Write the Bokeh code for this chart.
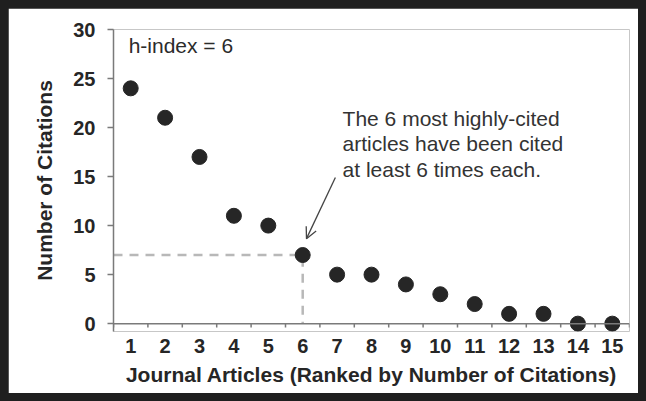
from bokeh.plotting import figure
from bokeh.models import Range1d, FixedTicker, Arrow, OpenHead, Span
from bokeh.core.properties import value
from bokeh.embed import file_html
from bokeh.resources import INLINE

# ---- data ----
ranks = list(range(1, 16))
citations = [24, 21, 17, 11, 10, 7, 5, 5, 4, 3, 2, 1, 1, 0, 0]
h_index = 6
y_ticks = [0, 5, 10, 15, 20, 25, 30]
x_label = "Journal Articles (Ranked by Number of Citations)"
y_label = "Number of Citations"
h_text = "h-index = 6"
note_lines = ["The 6 most highly-cited", "articles have been cited", "at least 6 times each."]

FONT = "Liberation Sans"
AXIS_COLOR = "#7a7a7a"
INK = "#262626"

p = figure(width=630, height=385, output_backend="svg", toolbar_location=None,
           x_range=Range1d(0.5, 15.5), y_range=Range1d(-0.8, 30),
           min_border_left=105, min_border_right=9, min_border_top=21, min_border_bottom=62)
p.background_fill_color = "white"
p.border_fill_color = "white"
p.outline_line_color = None
p.grid.visible = False

# y axis
ya = p.yaxis[0]
ya.ticker = FixedTicker(ticks=y_ticks)
ya.axis_line_color = AXIS_COLOR
ya.axis_line_width = 1.5
ya.major_tick_line_color = AXIS_COLOR
ya.major_tick_line_width = 1.5
ya.major_tick_out = 6
ya.major_tick_in = 0
ya.minor_tick_line_color = None
ya.major_label_text_font = FONT
ya.major_label_text_font_size = "20px"
ya.major_label_text_font_style = "bold"
ya.major_label_text_color = INK
ya.major_label_standoff = 12
ya.axis_label = y_label
ya.axis_label_text_font = FONT
ya.axis_label_text_font_size = "21px"
ya.axis_label_text_font_style = "bold"
ya.axis_label_text_color = INK
ya.axis_label_standoff = 14

# x axis (labels only; line and ticks drawn at y=0)
xa = p.xaxis[0]
xa.ticker = FixedTicker(ticks=ranks)
xa.axis_line_color = None
xa.major_tick_line_color = None
xa.minor_tick_line_color = None
xa.major_tick_out = 0
xa.major_tick_in = 0
xa.major_label_text_font = FONT
xa.major_label_text_font_size = "20px"
xa.major_label_text_font_style = "bold"
xa.major_label_text_color = INK
xa.major_label_standoff = 7
xa.axis_label = x_label
xa.axis_label_text_font = FONT
xa.axis_label_text_font_size = "21px"
xa.axis_label_text_font_style = "bold"
xa.axis_label_text_color = INK
xa.axis_label_standoff = 7

p.add_layout(Span(location=0, dimension="width", line_color=AXIS_COLOR, line_width=1.5))
bounds = [r - 0.5 for r in ranks] + [ranks[-1] + 0.5]
p.segment(x0=bounds, y0=[0] * len(bounds), x1=bounds, y1=[-0.4] * len(bounds),
          line_color=AXIS_COLOR, line_width=1.5)

# h-index guide lines
h_val = citations[h_index - 1]
p.line(x=[0.5, h_index, h_index], y=[h_val, h_val, 0],
       line_color="#b8b8b8", line_width=2.5, line_dash="9 7")

# points
p.scatter(x=ranks, y=citations, size=15, fill_color=INK, line_color=INK)

# texts
p.text(x=[0.94], y=[28.35], text=[h_text], text_font=value(FONT),
       text_font_size="21px", text_baseline="alphabetic", text_color="#2b2b2b")
p.text(x=[7.16] * 3, y=[20.9, 18.36, 15.7], text=note_lines, text_font=value(FONT),
       text_font_size="21px", text_baseline="alphabetic", text_color="#333333")

p.add_layout(Arrow(end=OpenHead(size=11, line_color="#444444", line_width=1.3),
                   x_start=6.95, y_start=14.9, x_end=h_index + 0.11, y_end=h_val + 1.67,
                   line_color="#444444", line_width=1.3))

TEMPLATE = """{% block preamble %}<style>
html { background: #1f1f1f !important; overflow: hidden !important; }
body { background: #1f1f1f !important; margin: 0 !important; padding: 8px !important;
       height: auto !important; box-sizing: content-box !important; }
</style>{% endblock %}"""

open("out.html", "w").write(file_html(p, INLINE, template=TEMPLATE))
